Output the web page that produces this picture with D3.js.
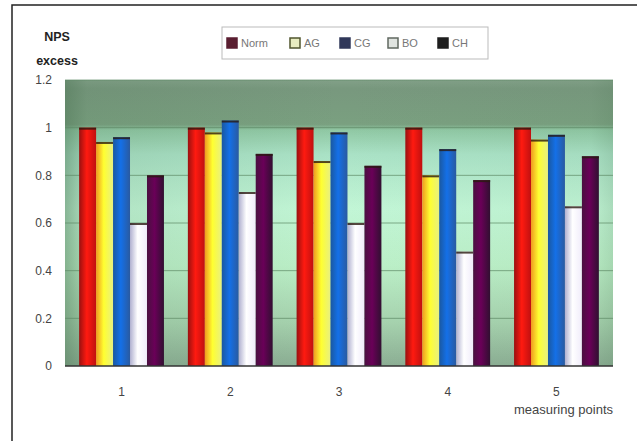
<!DOCTYPE html>
<html><head><meta charset="utf-8">
<script src="https://cdn.jsdelivr.net/npm/d3@7"></script>
<style>body{margin:0;background:#fff}svg{display:block}text{font-family:"Liberation Sans",Arial,sans-serif}</style>
</head><body><svg id="c" width="637" height="441"></svg>
<script>
const categories = ["1","2","3","4","5"];
const seriesNames = ["Norm","AG","CG","BO","CH"];
const norm = [1.0, 1.0, 1.0, 1.0, 1.0];
const ag   = [0.94, 0.98, 0.86, 0.80, 0.95];
const cg   = [0.96, 1.03, 0.98, 0.91, 0.97];
const bo   = [0.60, 0.73, 0.60, 0.48, 0.67];
const ch   = [0.80, 0.89, 0.84, 0.78, 0.88];
const yTicks = [0, 0.2, 0.4, 0.6, 0.8, 1, 1.2];
const yTitle = ["NPS", "excess"];
const xTitle = "measuring points";

const seriesValues = [norm, ag, cg, bo, ch];
const fills = [
  ["#9a1010","#ff1a10","#c01010"],
  ["#f09a20","#ffff30","#e8f080"],
  ["#1a58a0","#1470e8","#2a5aa0"],
  ["#b0b0d0","#ffffff","#f0ecfa"],
  ["#4a1040","#6a0058","#301030"]
];
const legendSw = [
  {fill:"#5a1e30",stroke:"#5a1e30"},
  {fill:"#e8ecc0",stroke:"#50552e"},
  {fill:"#30385a",stroke:"#30385a"},
  {fill:"#e0e4e0",stroke:"#606860"},
  {fill:"#1e1e1e",stroke:"#1e1e1e"}
];

const svg = d3.select("#c");
const defs = svg.append("defs");
const m = {l:65, r:613, t:80, b:366};

// outer frame
svg.append("path").attr("d","M12,441 L12,5 L637,5").attr("fill","none").attr("stroke","#222").attr("stroke-width",1.5);

const bg = defs.append("linearGradient").attr("id","bg").attr("x1",0).attr("y1",0).attr("x2",0).attr("y2",1);
[[0,"#82a088"],[0.03,"#78987e"],[0.155,"#7aa080"],[0.175,"#90c8a4"],[0.26,"#aae2c6"],[0.45,"#c2f6d6"],[0.65,"#bcf0c8"],[0.85,"#a6d2ae"],[1,"#8cae94"]]
  .forEach(([o,c])=>bg.append("stop").attr("offset",o).attr("stop-color",c));
const bgh = defs.append("linearGradient").attr("id","bgh").attr("x1",0).attr("y1",0).attr("x2",1).attr("y2",0);
[[0,"#4c7454",0.5],[0.04,"#4c7454",0.15],[0.5,"#4c7454",0],[0.96,"#4c7454",0.05],[1,"#4c7454",0.2]]
  .forEach(([o,c,a])=>bgh.append("stop").attr("offset",o).attr("stop-color",c).attr("stop-opacity",a));

fills.forEach((f,i)=>{
  const g = defs.append("linearGradient").attr("id","bar"+i).attr("x1",0).attr("y1",0).attr("x2",1).attr("y2",0);
  g.append("stop").attr("offset",0).attr("stop-color",f[0]);
  g.append("stop").attr("offset",0.45).attr("stop-color",f[1]);
  g.append("stop").attr("offset",1).attr("stop-color",f[2]);
});

const x = d3.scaleBand().domain(categories).range([m.l,m.r]).paddingInner(0.22).paddingOuter(0.13);
const xs = d3.scaleBand().domain(seriesNames).range([0,x.bandwidth()]);
const y = d3.scaleLinear().domain([0,1.2]).range([m.b,m.t]);

svg.append("rect").attr("x",m.l).attr("y",m.t).attr("width",m.r-m.l).attr("height",m.b-m.t).attr("fill","url(#bg)");
svg.append("rect").attr("x",m.l).attr("y",m.t).attr("width",m.r-m.l).attr("height",m.b-m.t).attr("fill","url(#bgh)");

// gridlines
svg.append("g").selectAll("line").data(yTicks.filter(d=>d>0)).join("line")
  .attr("x1",m.l).attr("x2",m.r).attr("y1",d=>y(d)).attr("y2",d=>y(d))
  .attr("stroke","#5e8a66").attr("stroke-width",1).attr("opacity",0.7);

// bars
seriesNames.forEach((s,i)=>{
  const g = svg.append("g");
  g.selectAll("rect").data(seriesValues[i]).join("rect")
    .attr("x",(d,j)=>x(categories[j])+xs(s))
    .attr("y",d=>y(d))
    .attr("width",xs.bandwidth())
    .attr("height",d=>m.b-y(d))
    .attr("fill","url(#bar"+i+")");
  g.selectAll("line").data(seriesValues[i]).join("line")
    .attr("x1",(d,j)=>x(categories[j])+xs(s))
    .attr("x2",(d,j)=>x(categories[j])+xs(s)+xs.bandwidth())
    .attr("y1",d=>y(d)+1).attr("y2",d=>y(d)+1)
    .attr("stroke","#2a1a10").attr("stroke-width",2).attr("opacity",0.8);
});

// x axis line
svg.append("line").attr("x1",m.l).attr("x2",m.r).attr("y1",m.b).attr("y2",m.b).attr("stroke","#333").attr("stroke-width",1.5);

// y tick labels
const yAxis = svg.append("g").attr("transform",`translate(${m.l},0)`)
  .call(d3.axisLeft(y).tickValues(yTicks).tickSize(0).tickPadding(13).tickFormat(d=>String(d)));
yAxis.select(".domain").remove();
yAxis.selectAll("text").attr("font-size",12).attr("fill","#444").attr("font-family","'Liberation Sans',Arial,sans-serif");

// x tick labels
const xAxis = svg.append("g").attr("transform",`translate(0,${m.b})`)
  .call(d3.axisBottom(x).tickSize(0).tickPadding(21));
xAxis.select(".domain").remove();
xAxis.selectAll("text").attr("font-size",12).attr("fill","#444").attr("font-family","'Liberation Sans',Arial,sans-serif");

// titles
svg.append("text").attr("x",m.r).attr("y",414).attr("text-anchor","end").attr("font-size",13).attr("fill","#444").text(xTitle);
yTitle.forEach((t,i)=>svg.append("text").attr("x",57).attr("y",41+i*24).attr("text-anchor","middle")
  .attr("font-size",12.5).attr("font-weight","bold").attr("fill","#222").text(t));

// legend
const lg = svg.append("g");
lg.append("rect").attr("x",222).attr("y",27).attr("width",266).attr("height",32).attr("fill","#fff").attr("stroke","#bbb");
const lx = [227, 290, 340, 388, 438];
seriesNames.forEach((s,i)=>{
  lg.append("rect").attr("x",lx[i]).attr("y",38).attr("width",10).attr("height",10)
    .attr("fill",legendSw[i].fill).attr("stroke",legendSw[i].stroke).attr("stroke-width",1.5);
  lg.append("text").attr("x",lx[i]+14).attr("y",47).attr("font-size",11).attr("fill","#777").text(s);
});
</script></body></html>
